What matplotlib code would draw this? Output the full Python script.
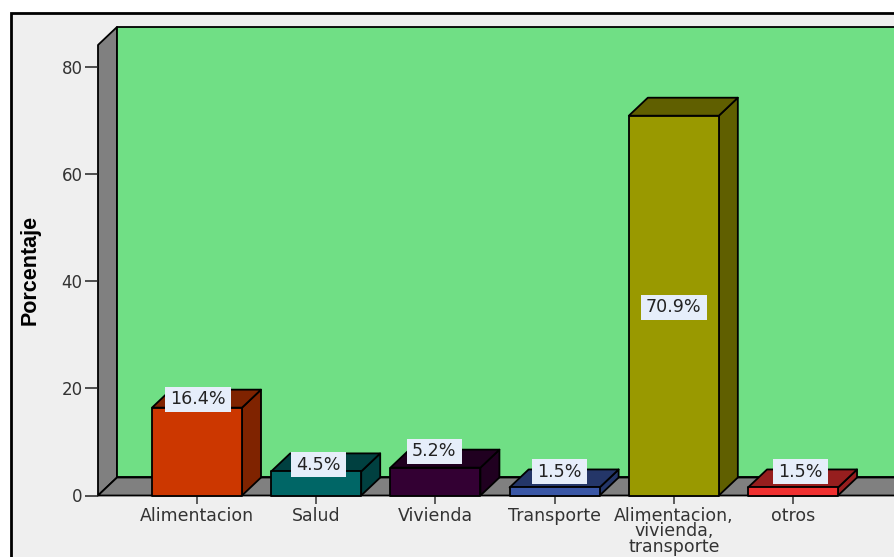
import matplotlib
matplotlib.use('Agg')
import matplotlib.pyplot as plt
from matplotlib.patches import Polygon, Rectangle

categories = ['Alimentacion', 'Salud', 'Vivienda', 'Transporte',
              'Alimentacion,\nvivienda,\ntransporte', 'otros']
values = [16.4, 4.5, 5.2, 1.5, 70.9, 1.5]
value_labels = ['16.4%', '4.5%', '5.2%', '1.5%', '70.9%', '1.5%']
yticks = [0, 20, 40, 60, 80]

front_colors = ['#CC3700', '#006666', '#330033', '#3A57A6', '#999900', '#F03030']
top_colors = ['#7F2300', '#004040', '#200020', '#243668', '#605F00', '#961E1E']

W, H = 894, 557
fig = plt.figure(figsize=(W / 100, H / 100), dpi=100, facecolor='white')

# grey panel, border runs off the right and bottom
fig.add_artist(Rectangle((10.5 / W, -0.05), 1, 1 - 12.5 / H + 0.05, transform=fig.transFigure,
                         facecolor='#EFEFEF', edgecolor='black', linewidth=2, zorder=-1))

ax = fig.add_axes([98 / W, (H - 495.5) / H, (W - 98) / W, (495.5 - 45) / H])
ax.patch.set_visible(False)
for s in ax.spines.values():
    s.set_visible(False)

ax.set_xlim(-0.8305, 5.847)
ax.set_ylim(0, 84.1)

px_x = 1 / 119.2   # data units per pixel
px_y = 1 / 5.356
dx = 19 * px_x     # depth of the 3d effect
dy = 18 * px_y
left, right = -0.8305, 6.2
ytop = 84.1
bw = 0.755
edge = dict(edgecolor='black', linewidth=1.3, clip_on=False, joinstyle='round')

# walls and floor
ax.add_patch(Polygon([(left, 0), (left, ytop), (left + dx, ytop + dy), (left + dx, dy)],
                     facecolor='#808080', zorder=1, **edge))
ax.add_patch(Polygon([(left + dx, dy), (left + dx, ytop + dy), (right, ytop + dy), (right, dy)],
                     facecolor='#70DF85', zorder=1, **edge))
ax.add_patch(Polygon([(left, 0), (left + dx, dy), (right, dy), (right, 0)],
                     facecolor='#808080', zorder=1, **edge))

for i, v in enumerate(values):
    x0, x1 = i - bw / 2, i + bw / 2
    z = 3 + i * 0.01
    ax.add_patch(Polygon([(x1, 0), (x1 + dx, dy), (x1 + dx, v + dy), (x1, v)],
                         facecolor=top_colors[i], zorder=z, **edge))
    ax.add_patch(Polygon([(x0, v), (x0 + dx, v + dy), (x1 + dx, v + dy), (x1, v)],
                         facecolor=top_colors[i], zorder=z, **edge))
    ax.add_patch(Rectangle((x0, 0), bw, v, facecolor=front_colors[i], zorder=z, **edge))

# label boxes sit by hand in the original, so they are placed one by one
label_dx = [0.01, 0.02, -0.01, 0.04, 0.0, 0.06]
label_y = [18.0, 5.7, 8.3, 4.4, 35.1, 4.4]
for i, lab in enumerate(value_labels):
    cx, cy = i + label_dx[i], label_y[i]
    bx = (11 * len(lab) + 11) * px_x
    by = 25 * px_y
    ax.add_patch(Rectangle((cx - bx / 2, cy - by / 2), bx, by, facecolor='#E6EEFA',
                           edgecolor='none', zorder=5, clip_on=False))
    ax.text(cx, cy, lab, ha='center', va='center', fontsize=12.6,
            color='#222222', zorder=6, clip_on=False)

ax.set_yticks(yticks)
ax.set_xticks(range(len(categories)))
ax.set_xticklabels(categories, linespacing=0.82)
ax.tick_params(axis='y', length=9.5, width=1.1, color='#222222', labelcolor='#333333',
               labelsize=12, pad=1.5)
ax.tick_params(axis='x', length=6, width=1.1, color='#333333', labelcolor='#333333',
               labelsize=12.5, pad=2)

fig.text(30 / W, (H - 270) / H, 'Porcentaje', rotation=90, ha='center', va='center',
         fontsize=15.5, fontweight='bold', color='black',
         family=['Liberation Sans Narrow', 'Liberation Sans'])

fig.savefig('out.png', dpi=100)
